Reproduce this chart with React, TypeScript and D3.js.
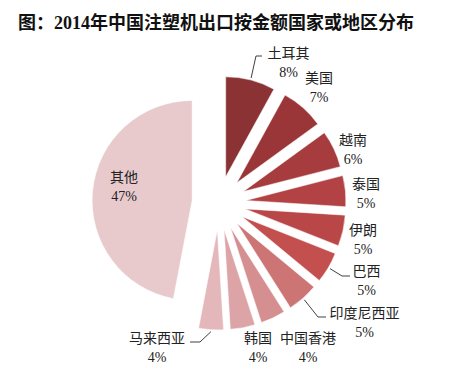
import React from "react";
import * as d3 from "d3";

const categories = ["土耳其", "美国", "越南", "泰国", "伊朗", "巴西", "印度尼西亚", "中国香港", "韩国", "马来西亚", "其他"];
const shares = [8, 7, 6, 5, 5, 5, 5, 4, 4, 4, 47];
const pctLabels = ["8%", "7%", "6%", "5%", "5%", "5%", "5%", "4%", "4%", "4%", "47%"];
const colors = ["#8B3234", "#9A3638", "#A73C3E", "#B24243", "#BA4747", "#C34F4E", "#CD7475", "#D68F91", "#DDA4A7", "#E4B8BB", "#E8CACD"];

const title = "图：2014年中国注塑机出口按金额国家或地区分布";

// label layout (name centre; percent drawn one line below)
const labelLayout: Record<string, { x: number; y: number; anchor?: string; leader?: [number, number][] }> = {
  "土耳其": { x: 288.5, y: 53, leader: [[256, 56], [262, 56]] },
  "美国": { x: 319, y: 78 },
  "越南": { x: 353, y: 140 },
  "泰国": { x: 366, y: 184 },
  "伊朗": { x: 363, y: 230 },
  "巴西": { x: 366.5, y: 271, leader: [[342, 276], [350, 276]] },
  "印度尼西亚": { x: 364.5, y: 313, leader: [[318, 317], [326, 317]] },
  "中国香港": { x: 308, y: 338 },
  "韩国": { x: 258, y: 338 },
  "马来西亚": { x: 157, y: 338, leader: [[200, 342], [190, 342]] },
  "其他": { x: 124, y: 177 },
};

const FONT = "'Liberation Serif', 'Noto Sans CJK SC', serif";

export default function App() {
  const cx = 219;
  const cy = 203;
  const r = 100;
  const explode = 27;

  const pie = d3
    .pie<number>()
    .sort(null)
    .value((d) => d)
    .startAngle(0)
    .endAngle(2 * Math.PI);
  const arcs = pie(shares);
  const arc = d3.arc<d3.PieArcDatum<number>>().innerRadius(0).outerRadius(r);

  return (
    <svg
      width={461}
      height={381}
      style={{ position: "absolute", left: 0, top: 0, background: "#fff" }}
    >
      <rect x={0} y={0} width={461} height={381} fill="#fff" />
      <text x={18} y={29} fontFamily={FONT} fontWeight="bold" fontSize={18} fill="#111">
        {title}
      </text>
      {arcs.map((a, i) => {
        const mid = (a.startAngle + a.endAngle) / 2;
        const ux = Math.sin(mid);
        const uy = -Math.cos(mid);
        const ox = cx + explode * ux;
        const oy = cy + explode * uy;
        return (
          <g key={categories[i]}>
            <path
              d={arc(a) || ""}
              transform={`translate(${ox},${oy})`}
              fill={colors[i]}
              stroke="#fff"
              strokeWidth={0.5}
            />
          </g>
        );
      })}
      {arcs.map((a, i) => {
        const name = categories[i];
        const L = labelLayout[name];
        const mid = (a.startAngle + a.endAngle) / 2;
        const ux = Math.sin(mid);
        const uy = -Math.cos(mid);
        const sx = cx + explode * ux + (r + 2) * ux;
        const sy = cy + explode * uy + (r + 2) * uy;
        const pts: [number, number][] = L.leader ? [[sx, sy], ...L.leader] : [];
        return (
          <g key={"l" + name}>
            {L.leader && (
              <path
                d={d3.line()(pts) || ""}
                fill="none"
                stroke="#404040"
                strokeWidth={1}
              />
            )}
            <text
              x={L.x}
              y={L.y}
              textAnchor="middle"
              dominantBaseline="central"
              fontFamily={FONT}
              fontSize={14}
              fill="#222"
            >
              {name}
            </text>
            <text
              x={L.x}
              y={L.y + 19}
              textAnchor="middle"
              dominantBaseline="central"
              fontFamily={FONT}
              fontSize={14}
              fill="#222"
            >
              {pctLabels[i]}
            </text>
          </g>
        );
      })}
    </svg>
  );
}
